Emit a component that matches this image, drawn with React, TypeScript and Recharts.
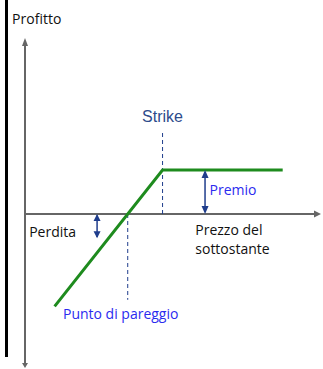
import React from 'react';
import { ComposedChart, Line, XAxis, YAxis, ReferenceLine, ReferenceDot } from 'recharts';

// Payoff (profit) of the position vs. underlying price
const prices = [8.5, 39.5, 74];
const profits = [-21, 10, 10];
const breakEven = 29.5;
const strike = 39.5;
const premium = 10;
const lossMarkerX = 20.7;
const lossMarkerDepth = -5.5;
const premiumMarkerX = 51.7;
const xDomain = [0, 85];
const yDomain = [-35, 40];

const data = prices.map((x, i) => ({ x, y: profits[i] }));

type Ann = { text: string; x: number; y: number; color: string; size: number; anchor: 'start' | 'middle'; font: string };
const annotations: Ann[] = [
  { text: 'Profitto', x: -3.7, y: 43.2, color: '#111', size: 14, anchor: 'start', font: 'Open Sans' },
  { text: 'Strike', x: 39.5, y: 20.9, color: '#2E4B8C', size: 16, anchor: 'middle', font: 'Liberation Sans' },
  { text: 'Premio', x: 53, y: 4.3, color: '#2B2BEF', size: 14, anchor: 'start', font: 'Open Sans' },
  { text: 'Perdita', x: 1.2, y: -5.2, color: '#111', size: 14, anchor: 'start', font: 'Open Sans' },
  { text: 'Prezzo del', x: 48.9, y: -4.8, color: '#111', size: 14, anchor: 'start', font: 'Open Sans' },
  { text: 'sottostante', x: 48.9, y: -9.0, color: '#111', size: 14, anchor: 'start', font: 'Open Sans' },
  { text: 'Punto di pareggio', x: 10.9, y: -23.9, color: '#2B2BEF', size: 14, anchor: 'start', font: 'Open Sans' },
];

const AXIS = '#666666';
const NAVY = '#1F3D8C';

const Arrow = (props: any) => {
  const { cx, cy, dir, len, half, color } = props;
  if (cx == null || cy == null) return null;
  let pts = '';
  if (dir === 'up') pts = `${cx},${cy} ${cx - half},${cy + len} ${cx + half},${cy + len}`;
  if (dir === 'down') pts = `${cx},${cy} ${cx - half},${cy - len} ${cx + half},${cy - len}`;
  if (dir === 'right') pts = `${cx},${cy} ${cx - len},${cy - half} ${cx - len},${cy + half}`;
  return <polygon points={pts} fill={color} />;
};

const arrowDot = (x: number, y: number, dir: string, len: number, half: number, color: string, key: string) => (
  <ReferenceDot
    key={key}
    x={x}
    y={y}
    r={0}
    ifOverflow="visible"
    shape={(p: any) => <Arrow cx={p.cx} cy={p.cy} dir={dir} len={len} half={half} color={color} />}
  />
);

export default function App() {
  return (
    <div style={{ position: 'absolute', left: 0, top: 0, width: 323, height: 369, background: '#fff' }}>
      <div style={{ position: 'absolute', left: 5, top: 0, width: 2.5, height: 357, background: '#000' }} />
      <ComposedChart
        width={323}
        height={369}
        data={data}
        margin={{ top: 38, right: 2, bottom: 1, left: 25 }}
        style={{ position: 'absolute', left: 0, top: 0 }}
      >
        <XAxis type="number" dataKey="x" domain={xDomain} hide allowDataOverflow />
        <YAxis type="number" domain={yDomain} hide allowDataOverflow />

        {/* axes */}
        <ReferenceLine segment={[{ x: 0, y: 0 }, { x: 84, y: 0 }]} stroke={AXIS} strokeWidth={2} ifOverflow="visible" />
        <ReferenceLine segment={[{ x: 0, y: -34 }, { x: 0, y: 39 }]} stroke={AXIS} strokeWidth={2} ifOverflow="visible" />
        {arrowDot(xDomain[1], 0, 'right', 7, 3.5, AXIS, 'ar')}
        {arrowDot(0, yDomain[1], 'up', 8, 3, AXIS, 'au')}
        {arrowDot(0, yDomain[0], 'down', 5, 3, AXIS, 'ad')}

        {/* dashed guides */}
        <ReferenceLine segment={[{ x: strike, y: 0 }, { x: strike, y: 18.6 }]} stroke={NAVY} strokeWidth={1} strokeDasharray="4 3" ifOverflow="visible" />
        <ReferenceLine segment={[{ x: breakEven, y: 0 }, { x: breakEven, y: -19.5 }]} stroke={NAVY} strokeWidth={1} strokeDasharray="4 3" ifOverflow="visible" />

        {/* premium double arrow */}
        <ReferenceLine segment={[{ x: premiumMarkerX, y: 0.5 }, { x: premiumMarkerX, y: premium - 0.5 }]} stroke={NAVY} strokeWidth={1.5} ifOverflow="visible" />
        {arrowDot(premiumMarkerX, premium, 'up', 8, 3.5, NAVY, 'pu')}
        {arrowDot(premiumMarkerX, 0, 'down', 8, 3.5, NAVY, 'pd')}

        {/* loss double arrow */}
        <ReferenceLine segment={[{ x: lossMarkerX, y: -0.3 }, { x: lossMarkerX, y: lossMarkerDepth + 0.3 }]} stroke={NAVY} strokeWidth={1.5} ifOverflow="visible" />
        {arrowDot(lossMarkerX, 0, 'up', 7, 3.5, NAVY, 'lu')}
        {arrowDot(lossMarkerX, lossMarkerDepth, 'down', 7, 3.5, NAVY, 'ld')}

        <Line
          type="linear"
          dataKey="y"
          stroke="#1E8B1E"
          strokeWidth={3}
          dot={false}
          activeDot={false}
          isAnimationActive={false}
        />

        {annotations.map((a, i) => (
          <ReferenceDot
            key={'t' + i}
            x={a.x}
            y={a.y}
            r={0}
            ifOverflow="visible"
            shape={(p: any) => (
              <text
                x={p.cx}
                y={p.cy}
                textAnchor={a.anchor}
                fill={a.color}
                fontSize={a.size}
                fontFamily={a.font}
              >
                {a.text}
              </text>
            )}
          />
        ))}
      </ComposedChart>
    </div>
  );
}
